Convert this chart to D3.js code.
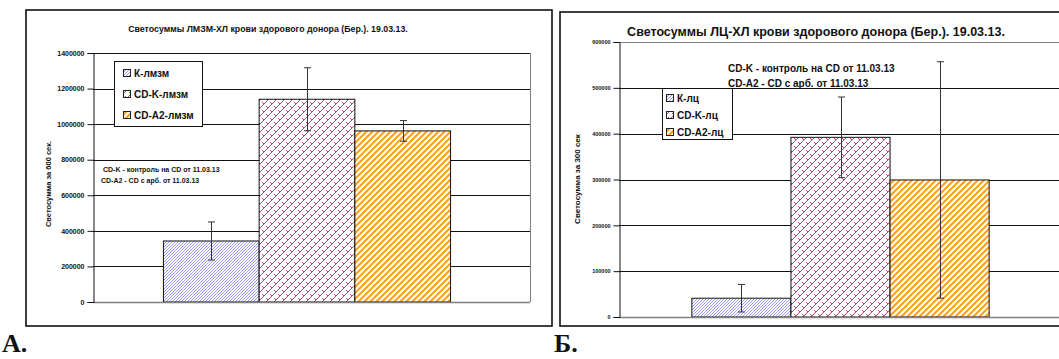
<!DOCTYPE html>
<html>
<head>
<meta charset="utf-8">
<script src="https://cdn.jsdelivr.net/npm/d3@7"></script>
<style>
  html, body { margin: 0; padding: 0; background: #fff; }
  svg { display: block; font-family: "Liberation Sans", Arial, sans-serif; }
</style>
</head>
<body>
<svg id="chart" width="1059" height="359"></svg>
<script>
// Panel А: ЛМЗМ-ХЛ light sums (600 s)
const seriesA = ["К-лмзм", "CD-K-лмзм", "CD-A2-лмзм"];
const valuesA = [343000, 1140000, 962000];
const errorsA = [107000, 177000, 58000];
const ticksA = [0, 200000, 400000, 600000, 800000, 1000000, 1200000, 1400000];

// Panel Б: ЛЦ-ХЛ light sums (300 s)
const seriesB = ["К-лц", "CD-K-лц", "CD-A2-лц"];
const valuesB = [41000, 392000, 299000];
const errorsB = [30000, 88000, 258000];
const ticksB = [0, 100000, 200000, 300000, 400000, 500000, 600000];

const category = ["19.03.13"];
const noteLines = ["CD-K - контроль на CD от 11.03.13", "CD-A2 - CD с арб. от 11.03.13"];

const svg = d3.select("#chart");
const defs = svg.append("defs");

// Fill patterns for the three series
const pK = defs.append("pattern").attr("id", "patK").attr("patternUnits", "userSpaceOnUse")
  .attr("width", 3).attr("height", 3);
pK.append("rect").attr("width", 3).attr("height", 3).attr("fill", "#fff");
pK.append("path").attr("d", "M-1,1 L1,-1 M0,3 L3,0 M2,4 L4,2")
  .attr("stroke", "#8c8cf0").attr("stroke-width", 0.9);

const pCD = defs.append("pattern").attr("id", "patCD").attr("patternUnits", "userSpaceOnUse")
  .attr("width", 8).attr("height", 8);
pCD.append("rect").attr("width", 8).attr("height", 8).attr("fill", "#fff");
pCD.append("path")
  .attr("d", "M0,8 L8,0 M-4,4 L4,-4 M4,12 L12,4 M2,2 L4,4 M6,6 L8,8 M0,0 L-1,-1 M6,-2 L8,0 M-2,6 L0,8")
  .attr("stroke", "#a8497a").attr("stroke-width", 1).attr("fill", "none");

const pA2 = defs.append("pattern").attr("id", "patA2").attr("patternUnits", "userSpaceOnUse")
  .attr("width", 6).attr("height", 6);
pA2.append("rect").attr("width", 6).attr("height", 6).attr("fill", "#fff");
pA2.append("path").attr("d", "M-1.5,1.5 L1.5,-1.5 M0,6 L6,0 M4.5,7.5 L7.5,4.5")
  .attr("stroke", "#ff9f1a").attr("stroke-width", 2.1);

const fills = ["url(#patK)", "url(#patCD)", "url(#patA2)"];

function drawPanel(cfg) {
  const g = svg.append("g");

  // frame around the panel
  g.append("rect").attr("x", cfg.box[0]).attr("y", cfg.box[1])
    .attr("width", cfg.box[2]).attr("height", cfg.box[3])
    .attr("fill", "#fff").attr("stroke", "#111").attr("stroke-width", 1.6);

  const y = d3.scaleLinear().domain([0, cfg.max]).range([cfg.bottom, cfg.top]);
  const xCat = d3.scaleBand().domain(category).range([cfg.left, cfg.right])
    .paddingInner(0).paddingOuter(cfg.outerPad).align(cfg.align);
  const xSer = d3.scaleBand().domain(cfg.series).range([0, xCat.bandwidth()]).padding(0);

  // horizontal gridlines
  g.append("g").selectAll("line").data(cfg.ticks.filter(t => t > 0)).join("line")
    .attr("x1", cfg.left).attr("x2", cfg.right)
    .attr("y1", d => Math.round(y(d)) + 0.5).attr("y2", d => Math.round(y(d)) + 0.5)
    .attr("stroke", d => d === cfg.max ? cfg.topColor : "#111").attr("stroke-width", 1);

  // plot-area right border
  g.append("line").attr("x1", cfg.right + 0.5).attr("x2", cfg.right + 0.5)
    .attr("y1", y(cfg.max)).attr("y2", cfg.bottom).attr("stroke", "#808080");

  // bars
  g.append("g").selectAll("rect").data(cfg.series).join("rect")
    .attr("x", d => xCat(category[0]) + xSer(d))
    .attr("width", xSer.bandwidth())
    .attr("y", (d, i) => y(cfg.values[i]))
    .attr("height", (d, i) => cfg.bottom - y(cfg.values[i]))
    .attr("fill", (d, i) => fills[i])
    .attr("stroke", "#111").attr("stroke-width", 1);

  // bottom axis line
  g.append("line").attr("x1", cfg.left).attr("x2", cfg.right)
    .attr("y1", cfg.bottom + 0.5).attr("y2", cfg.bottom + 0.5)
    .attr("stroke", "#808080").attr("stroke-width", 1.5);

  // error bars
  const eb = g.append("g").attr("stroke", "#333").attr("stroke-width", 1);
  cfg.series.forEach((s, i) => {
    const cx = Math.round(xCat(category[0]) + xSer(s) + xSer.bandwidth() / 2) + 0.5;
    const hi = y(cfg.values[i] + cfg.errors[i]);
    const lo = y(cfg.values[i] - cfg.errors[i]);
    eb.append("line").attr("x1", cx).attr("x2", cx).attr("y1", hi).attr("y2", lo);
    eb.append("line").attr("x1", cx - 3.5).attr("x2", cx + 3.5).attr("y1", hi).attr("y2", hi);
    eb.append("line").attr("x1", cx - 3.5).attr("x2", cx + 3.5).attr("y1", lo).attr("y2", lo);
  });

  // y axis
  const axis = d3.axisLeft(y).tickValues(cfg.ticks).tickSize(6).tickPadding(3)
    .tickFormat(d3.format("d"));
  const ag = g.append("g").attr("transform", `translate(${cfg.left + 0.5},0)`).call(axis);
  ag.select(".domain").attr("stroke", "#111");
  ag.selectAll(".tick line").attr("stroke", "#111");
  ag.selectAll(".tick text").attr("font-size", cfg.tickFont).attr("font-weight", "bold")
    .attr("fill", "#111").attr("font-family", "'Liberation Sans', Arial, sans-serif");

  // y axis title
  g.append("text")
    .attr("transform", `translate(${cfg.yTitle[0]},${cfg.yTitle[1]}) rotate(-90)`)
    .attr("text-anchor", "middle").attr("dominant-baseline", "middle")
    .attr("font-size", cfg.yTitleFont).attr("font-weight", "bold").attr("fill", "#111")
    .text(cfg.yLabel);

  // chart title
  g.append("text").attr("x", cfg.title[0]).attr("y", cfg.title[1])
    .attr("text-anchor", "middle").attr("font-size", cfg.titleFont)
    .attr("font-weight", "bold").attr("fill", "#111").text(cfg.titleText);

  // explanatory note
  g.append("g").selectAll("text").data(noteLines).join("text")
    .attr("x", (d, i) => cfg.note[0] + (i === 0 ? cfg.noteIndent : 0))
    .attr("y", (d, i) => cfg.note[1] + i * cfg.noteStep)
    .attr("font-size", cfg.noteFont).attr("font-weight", "bold").attr("fill", "#111")
    .text(d => d);

  // legend
  const lg = g.append("g");
  lg.append("rect").attr("x", cfg.legend[0] + 0.5).attr("y", cfg.legend[1] + 0.5)
    .attr("width", cfg.legend[2]).attr("height", cfg.legend[3])
    .attr("fill", "#fff").attr("stroke", "#111").attr("stroke-width", 1);
  const items = lg.selectAll("g").data(cfg.series).join("g")
    .attr("transform", (d, i) => `translate(${cfg.legend[0] + cfg.legPadX},${cfg.legend[1] + cfg.legFirst + i * cfg.legStep})`);
  items.append("rect").attr("x", 0.5).attr("y", -3.5).attr("width", 7).attr("height", 7)
    .attr("fill", (d, i) => fills[i]).attr("stroke", "#222").attr("stroke-width", 1);
  items.append("text").attr("x", 11).attr("y", 0).attr("dominant-baseline", "central")
    .attr("font-size", cfg.legFont).attr("font-weight", "bold").attr("fill", "#111")
    .text(d => d);

  // panel letter
  g.append("text").attr("x", cfg.letter[0]).attr("y", cfg.letter[1])
    .attr("font-family", "'Liberation Serif', 'Times New Roman', serif")
    .attr("font-size", 26).attr("font-weight", "bold").attr("fill", "#111")
    .text(cfg.letterText);
}

drawPanel({
  box: [26, 10, 526, 316],
  left: 93, right: 530, top: 53, bottom: 302, max: 1400000,
  outerPad: 0.261, align: 0.47, topColor: "#111",
  series: seriesA, values: valuesA, errors: errorsA, ticks: ticksA,
  tickFont: 7, yLabel: "Светосумма за 600 сек.", yTitle: [49, 184], yTitleFont: 7.5,
  titleText: "Светосуммы ЛМЗМ-ХЛ крови здорового донора (Бер.). 19.03.13.",
  title: [268, 32], titleFont: 8.8,
  note: [101, 172], noteIndent: 2, noteStep: 11, noteFont: 7,
  legend: [114, 61, 88, 65], legPadX: 9, legFirst: 12, legStep: 21, legFont: 10,
  letter: [2, 352], letterText: "А."
});

drawPanel({
  box: [560, 12, 540, 314],
  left: 619, right: 1062, top: 42, bottom: 317, max: 600000,
  outerPad: 0.245, align: 0.5, topColor: "#808080",
  series: seriesB, values: valuesB, errors: errorsB, ticks: ticksB,
  tickFont: 5.5, yLabel: "Светосумма за 300 сек", yTitle: [578, 179], yTitleFont: 8,
  titleText: "Светосуммы ЛЦ-ХЛ крови здорового донора (Бер.). 19.03.13.",
  title: [816, 36], titleFont: 12.5,
  note: [728, 72], noteIndent: 0, noteStep: 15, noteFont: 10,
  legend: [662, 88, 70, 51], legPadX: 4, legFirst: 10, legStep: 17, legFont: 10,
  letter: [554, 352], letterText: "Б."
});
</script>
</body>
</html>
